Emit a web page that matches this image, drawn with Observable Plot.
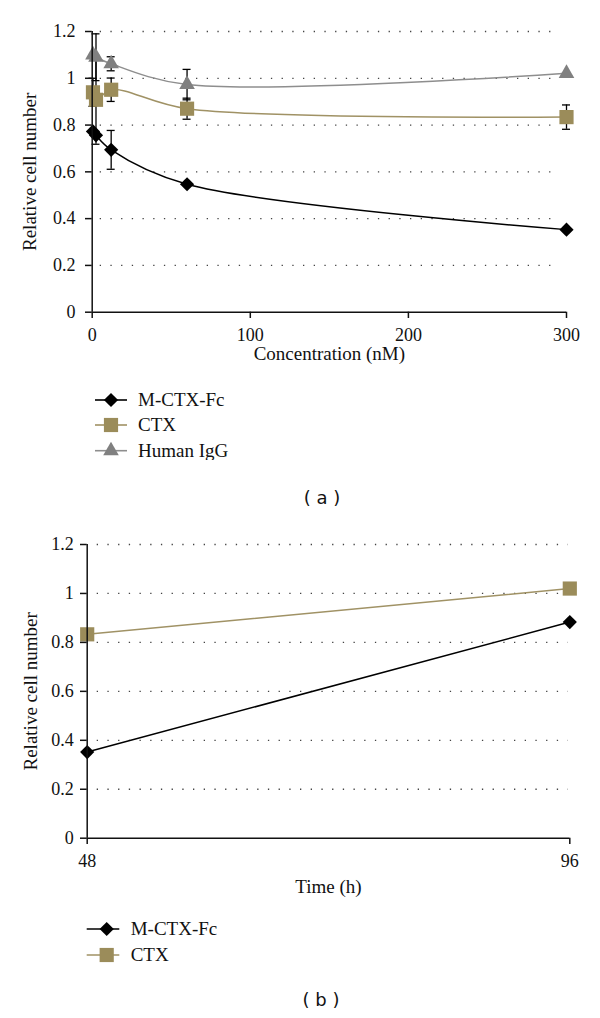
<!DOCTYPE html>
<html><head><meta charset="utf-8">
<script src="https://cdn.jsdelivr.net/npm/d3@7"></script>
<script src="https://cdn.jsdelivr.net/npm/@observablehq/plot@0.6"></script>
<style>
html,body{margin:0;padding:0;background:#fff;}
#root{position:relative;width:600px;height:1018px;overflow:hidden;background:#fff;}
#root svg text{font-family:"Liberation Serif",serif !important;}
.cap{position:absolute;font-family:"DejaVu Sans",sans-serif;font-size:18px;line-height:20px;text-align:center;width:100px;color:#111;white-space:pre;}
</style></head><body><div id="root"></div>
<script>
// ---------- data ----------
const seriesA = ["M-CTX-Fc", "CTX", "Human IgG"];
const seriesB = ["M-CTX-Fc", "CTX"];

const concentration = [0.48, 2.4, 12, 60, 300];          // nM
const mctxA    = [0.773, 0.756, 0.694, 0.547, 0.353];
const mctxAErr = [0,     0,     0.083, 0,     0];
const ctxA     = [0.940, 0.908, 0.951, 0.870, 0.834];
const ctxAErr  = [0.06,  0.19,  0.05,  0.045, 0.052];
const iggA     = [1.100, 1.090, 1.062, 0.973, 1.021];
const iggAErr  = [0,     0.10,  0.03,  0.065, 0];

const timeB = [48, 96];                                   // h
const mctxB = [0.352, 0.883];
const ctxB  = [0.833, 1.020];

const xTicksA = [0, 100, 200, 300];
const xTickLabelsA = ["0", "100", "200", "300"];
const xTicksB = [48, 96];
const xTickLabelsB = ["48", "96"];
const yTicks = [0, 0.2, 0.4, 0.6, 0.8, 1, 1.2];
const yTickLabels = ["0", "0.2", "0.4", "0.6", "0.8", "1", "1.2"];

// ---------- styles ----------
const st = {
  "M-CTX-Fc":  {fill: "#000000", line: "#000000", symbol: "diamond2", r: 6.4},
  "CTX":       {fill: "#9b8c5a", line: "#a09265", symbol: "square",   r: 8.0},
  "Human IgG": {fill: "#808080", line: "#8e8e8e", symbol: "triangle", r: 5.8}
};
const SERIF = '"Liberation Serif", serif';
const TICK_FS = 18, TITLE_FS = 19;

// ---------- tables ----------
function table(series, xs, ys, es) {
  return xs.map((x, i) => ({series, x, y: ys[i], e: es ? es[i] : 0}));
}
const rowsA = [
  ...table("M-CTX-Fc", concentration, mctxA, mctxAErr),
  ...table("CTX", concentration, ctxA, ctxAErr),
  ...table("Human IgG", concentration, iggA, iggAErr)
];
const rowsB = [
  ...table("M-CTX-Fc", timeB, mctxB),
  ...table("CTX", timeB, ctxB)
];

function chart(o) {
  const errRows = o.rows.filter(d => d.e > 0).map(d => ({x: d.x, lo: d.y - d.e, hi: d.y + d.e}));
  const grid = yTicks.filter(v => v > 0);
  const marks = [
    Plot.ruleY(grid, {stroke: "#444", strokeWidth: 1.3, strokeDasharray: "1.3,9.4", insetLeft: o.gridL, insetRight: o.gridR}),
    ...o.series.map(s => Plot.line(o.rows.filter(d => d.series === s), {x: "x", y: "y", stroke: st[s].line, strokeWidth: 1.5, curve: o.curve})),
    Plot.ruleX(errRows, {x: "x", y1: "lo", y2: "hi", stroke: "#000", strokeWidth: 1.3}),
    Plot.ruleY(errRows, {y: "lo", x1: "x", x2: "x", insetLeft: -4, insetRight: -4, stroke: "#000", strokeWidth: 1.3}),
    Plot.ruleY(errRows, {y: "hi", x1: "x", x2: "x", insetLeft: -4, insetRight: -4, stroke: "#000", strokeWidth: 1.3}),
    ...o.series.map(s => Plot.dot(o.rows.filter(d => d.series === s), {x: "x", y: "y", symbol: st[s].symbol, r: st[s].r, fill: st[s].fill, stroke: "none"})),
    Plot.ruleX([o.xDomain[0]], {stroke: "#111", strokeWidth: 1.5}),
    Plot.ruleY([0], {stroke: "#111", strokeWidth: 1.5}),
    Plot.axisY({ticks: yTicks, tickFormat: d => yTickLabels[yTicks.indexOf(d)], tickSize: 6.7, tickPadding: o.yPad, label: null, strokeWidth: 1.5, fill: "#111"}),
    Plot.axisX({ticks: o.xTicks, tickFormat: d => o.xTickLabels[o.xTicks.indexOf(d)], tickSize: 6.3, tickPadding: o.xPad, label: null, strokeWidth: 1.5, fill: "#111"}),
    Plot.text(["Relative cell number"], {text: d => d, frameAnchor: "left", textAnchor: "middle", lineAnchor: "middle", rotate: -90, dx: o.yTitleDx, fill: "#111"}),
    Plot.text([o.xTitle], {text: d => d, frameAnchor: "bottom", textAnchor: "middle", lineAnchor: "middle", dy: o.xTitleDy, fill: "#111"})
  ];
  const svg = Plot.plot({
    width: 600, height: o.height,
    marginTop: o.mt, marginBottom: o.mb, marginLeft: o.ml, marginRight: o.mr,
    x: {domain: o.xDomain},
    y: {domain: [0, 1.2]},
    style: {fontFamily: SERIF, fontSize: TICK_FS + "px", color: "#111", background: "transparent", overflow: "visible"},
    marks
  });
  svg.querySelectorAll("text").forEach(t => {
    const g = t.closest("g[aria-label]");
    const lab = g ? g.getAttribute("aria-label") : "";
    t.style.fontFamily = SERIF;
    t.style.fontSize = (lab.includes("tick label") ? TICK_FS : TITLE_FS) + "px";
  });
  svg.style.position = "absolute";
  svg.style.left = "0px";
  svg.style.top = o.top + "px";
  return svg;
}

function legend(series, top, rowYs, x1, x2, xm, xt) {
  const svg = d3.create("svg").attr("width", 600).attr("height", 80)
    .style("position", "absolute").style("left", "0px").style("top", top + "px");
  series.forEach((s, i) => {
    const y = rowYs[i];
    svg.append("line").attr("x1", x1).attr("x2", x2).attr("y1", y).attr("y2", y)
      .attr("stroke", st[s].line).attr("stroke-width", 1.6);
    const type = {diamond2: d3.symbolDiamond2, square: d3.symbolSquare, triangle: d3.symbolTriangle}[st[s].symbol];
    svg.append("path").attr("d", d3.symbol(type, Math.PI * st[s].r * st[s].r)())
      .attr("transform", `translate(${xm},${y})`).attr("fill", st[s].fill);
    svg.append("text").attr("x", xt).attr("y", y).attr("dy", "0.34em")
      .style("font-family", SERIF).style("font-size", TITLE_FS + "px").attr("fill", "#111").text(s);
  });
  return svg.node();
}

const root = document.getElementById("root");

root.appendChild(chart({
  top: 0, height: 370, mt: 31, mb: 58.3, ml: 91.7, mr: 34,
  xDomain: [0, 300], xTicks: xTicksA, xTickLabels: xTickLabelsA,
  rows: rowsA, series: seriesA, curve: "catmull-rom",
  gridL: 8, gridR: 9, yPad: 10, xPad: 9.5, yTitleDx: -62, xTitleDy: 42,
  xTitle: "Concentration (nM)"
}));
root.appendChild(legend(seriesA, 380, [20, 45, 70.7], 95, 127, 111, 138));
const capA = document.createElement("div");
capA.className = "cap"; capA.style.left = "272px"; capA.style.top = "488px"; capA.textContent = "( a )";
root.appendChild(capA);

root.appendChild(chart({
  top: 500, height: 400, mt: 44, mb: 62.3, ml: 86.7, mr: 30.7,
  xDomain: [48, 96], xTicks: xTicksB, xTickLabels: xTickLabelsB,
  rows: rowsB, series: seriesB, curve: "linear",
  gridL: 10, gridR: 1.5, yPad: 6.7, xPad: 10, yTitleDx: -56.7, xTitleDy: 49,
  xTitle: "Time (h)"
}));
root.appendChild(legend(seriesB, 900, [29, 55], 86.7, 119.3, 106.7, 130.7));
const capB = document.createElement("div");
capB.className = "cap"; capB.style.left = "271px"; capB.style.top = "990px"; capB.textContent = "( b )";
root.appendChild(capB);
</script>
</body></html>
